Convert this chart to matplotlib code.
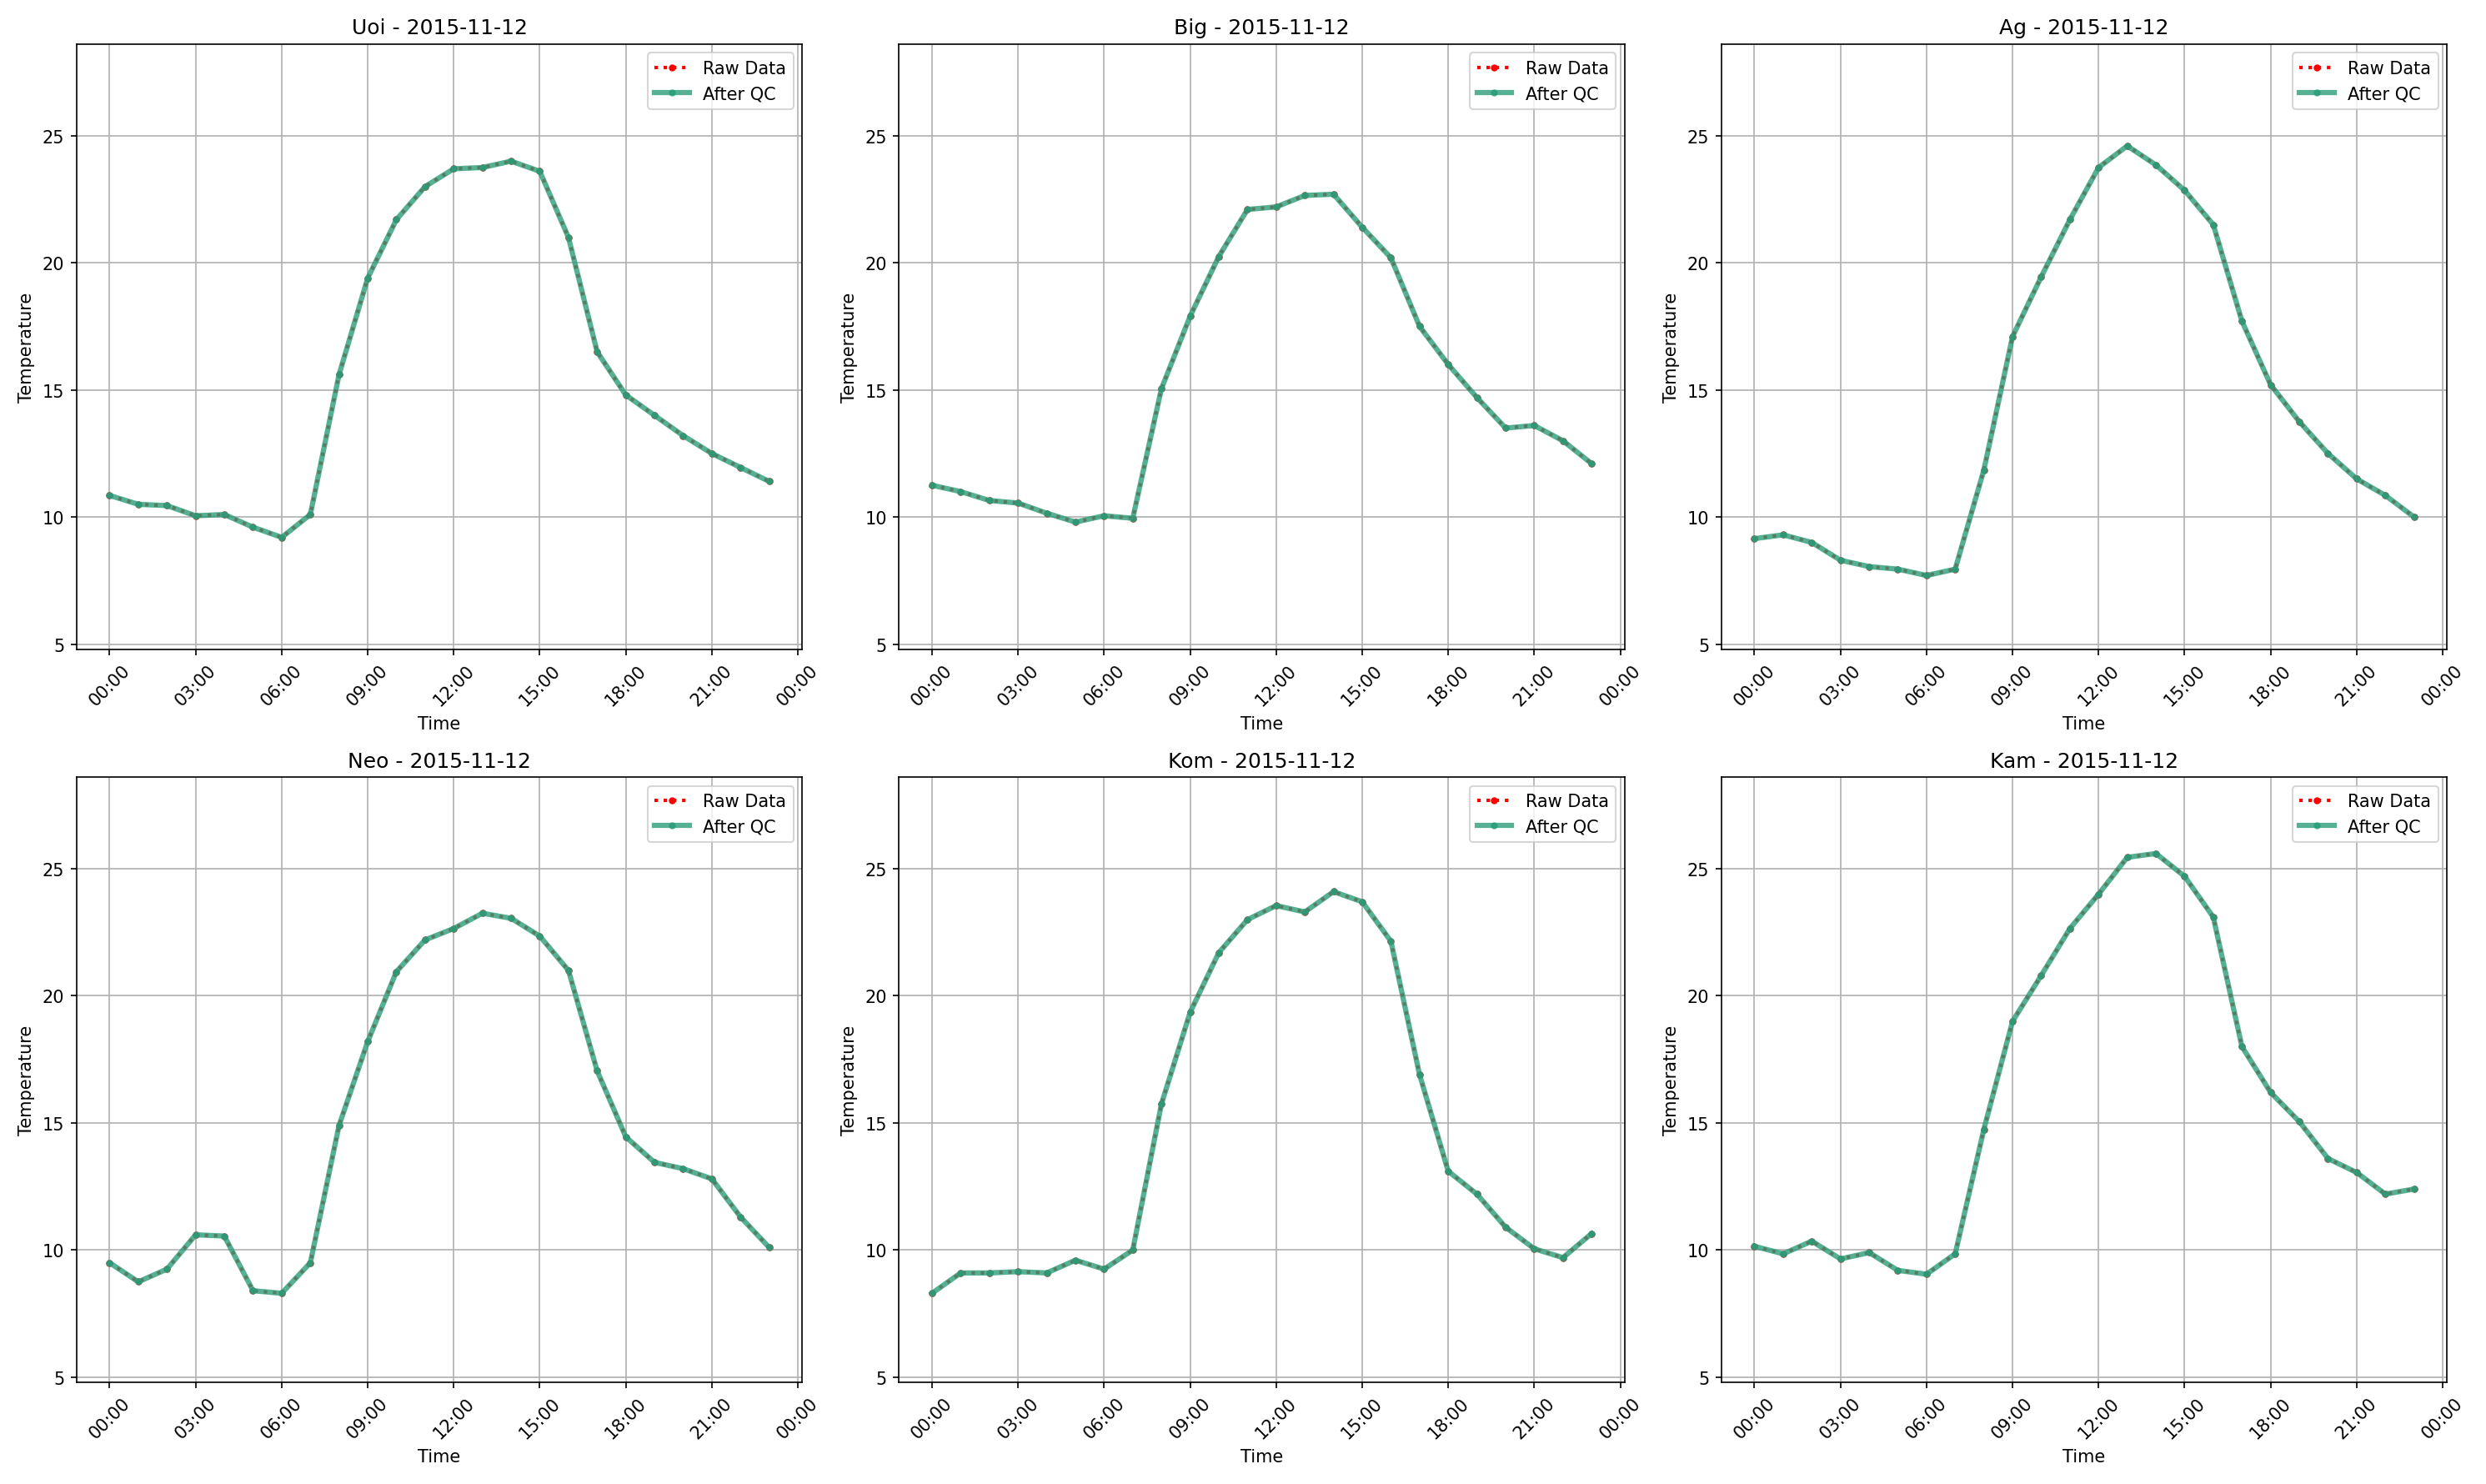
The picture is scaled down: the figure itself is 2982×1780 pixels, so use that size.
import numpy as np
import pandas as pd
import matplotlib
matplotlib.use('Agg')
import matplotlib.pyplot as plt
import matplotlib.dates as mdates

date = '2015-11-12'
stations = ['Uoi', 'Big', 'Ag', 'Neo', 'Kom', 'Kam']

uoi = [10.85, 10.5, 10.45, 10.05, 10.1, 9.6, 9.2, 10.1, 15.6, 19.4, 21.7, 23.0,
       23.7, 23.75, 24.0, 23.6, 21.0, 16.5, 14.8, 14.0, 13.2, 12.5, 11.95, 11.4]
big = [11.25, 11.0, 10.65, 10.55, 10.15, 9.8, 10.05, 9.95, 15.05, 17.9, 20.25, 22.1,
       22.2, 22.65, 22.7, 21.4, 20.2, 17.5, 16.0, 14.7, 13.5, 13.6, 13.0, 12.1]
ag = [9.15, 9.3, 9.0, 8.3, 8.05, 7.95, 7.7, 7.95, 11.85, 17.1, 19.45, 21.7,
      23.75, 24.6, 23.85, 22.85, 21.5, 17.7, 15.2, 13.75, 12.5, 11.5, 10.85, 10.0]
neo = [9.5, 8.75, 9.25, 10.6, 10.55, 8.4, 8.3, 9.5, 14.9, 18.2, 20.95, 22.2,
       22.65, 23.25, 23.05, 22.35, 21.0, 17.05, 14.45, 13.45, 13.2, 12.8, 11.3, 10.1]
kom = [8.3, 9.1, 9.1, 9.15, 9.1, 9.6, 9.25, 10.0, 15.75, 19.35, 21.7, 23.0,
       23.55, 23.3, 24.1, 23.7, 22.15, 16.9, 13.1, 12.2, 10.9, 10.05, 9.7, 10.65]
kam = [10.15, 9.85, 10.35, 9.65, 9.9, 9.2, 9.05, 9.85, 14.75, 19.0, 20.8, 22.65,
       24.0, 25.45, 25.6, 24.7, 23.1, 18.0, 16.2, 15.05, 13.6, 13.05, 12.2, 12.4]
series = [uoi, big, ag, neo, kom, kam]

times = pd.date_range(date, periods=24, freq='h')

fig, axes = plt.subplots(2, 3, figsize=(19.88, 11.873), dpi=150)
for ax, name, vals in zip(axes.flat, stations, series):
    ax.plot(times, vals, color='red', linestyle=':', marker='o', markersize=3,
            linewidth=2, label='Raw Data')
    ax.plot(times, vals, color='#2a9d7a', marker='o', markersize=3,
            linewidth=3, alpha=0.8, label='After QC')
    ax.set_title(f'{name} - {date}')
    ax.set_xlabel('Time')
    ax.set_ylabel('Temperature')
    ax.set_ylim(4.8, 28.6)
    ax.set_xlim(pd.Timestamp(date) - pd.Timedelta(hours=1.15),
                pd.Timestamp(date) + pd.Timedelta(hours=24.15))
    ax.xaxis.set_major_locator(mdates.HourLocator(interval=3))
    ax.xaxis.set_major_formatter(mdates.DateFormatter('%H:%M'))
    ax.tick_params(axis='x', rotation=45)
    ax.grid(True)
    ax.legend(loc='upper right')

fig.tight_layout()
fig.savefig('out.png')
